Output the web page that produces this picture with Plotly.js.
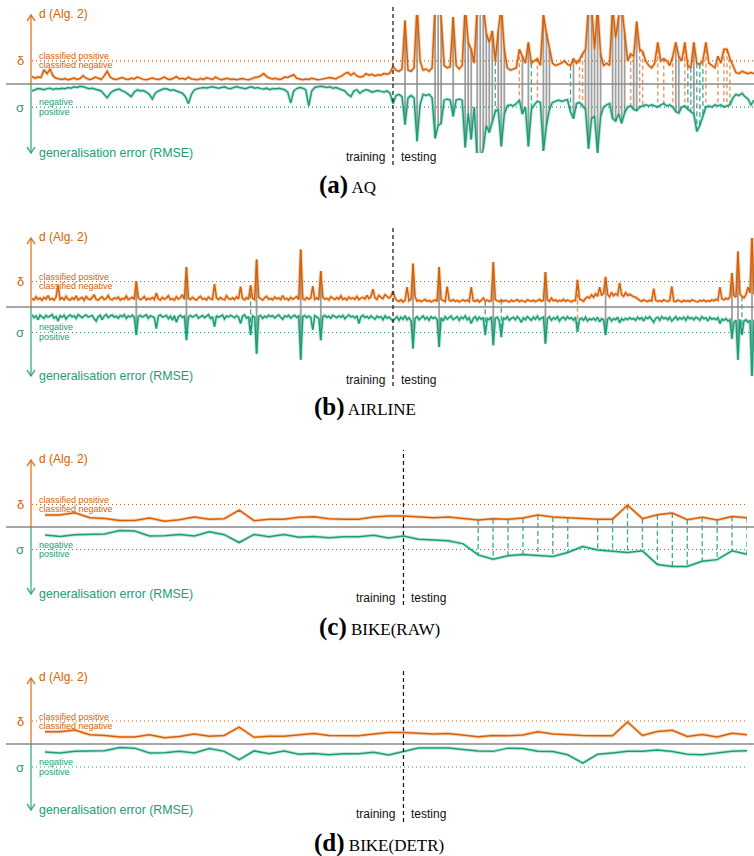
<!DOCTYPE html>
<html><head><meta charset="utf-8">
<script src="https://cdn.plot.ly/plotly-3.0.1.min.js"></script>
<style>html,body{margin:0;padding:0;background:#fff}#chart{width:754px;height:856px}</style>
</head><body><div id="chart"></div>
<script>
// ---------------- data (d and RMSE in units of their thresholds) -------------
const deltaThreshold = 1.0;   // δ  (classified positive above)
const sigmaThreshold = 1.0;   // σ  (positive above)

const panelLetters = ['(a)', '(b)', '(c)', '(d)'];
const panelNames = ['AQ', 'AIRLINE', 'BIKE(RAW)', 'BIKE(DETR)'];

const aqSplit = 120;
const aqD = [
0.33,0.25,0.3,0.28,0.62,0.45,0.65,0.35,0.25,0.22,
0.2,0.24,0.18,0.22,0.26,0.2,0.24,0.36,0.25,0.2,
0.22,0.3,0.24,0.2,0.35,0.55,0.3,0.22,0.2,0.24,
0.28,0.22,0.2,0.25,0.22,0.3,0.24,0.2,0.18,0.22,
0.26,0.22,0.2,0.24,0.3,0.22,0.2,0.25,0.32,0.22,
0.25,0.2,0.3,0.22,0.2,0.18,0.24,0.2,0.27,0.22,
0.2,0.3,0.22,0.18,0.22,0.25,0.2,0.22,0.18,0.2,
0.24,0.2,0.18,0.22,0.28,0.3,0.35,0.45,0.32,0.25,
0.22,0.25,0.2,0.22,0.3,0.28,0.35,0.4,0.25,0.2,
0.18,0.22,0.2,0.25,0.22,0.18,0.2,0.22,0.25,0.28,
0.25,0.22,0.3,0.35,0.45,0.5,0.38,0.48,0.35,0.3,
0.32,0.45,0.38,0.42,0.35,0.4,0.38,0.45,0.42,0.48,
0.75,0.6,0.55,0.65,2.75,0.6,0.55,0.7,3.4,1.0,
0.6,0.65,0.55,0.7,3.4,3.4,2.9,0.8,0.7,0.75,
2.9,0.8,0.65,0.8,3.4,1.8,1.5,0.9,3.4,3.4,
3.4,2.2,1.8,2.3,1.0,2.3,3.4,1.5,0.7,0.6,
0.65,0.7,1.5,1.2,0.9,1.8,0.9,1.0,1.1,0.8,
3.0,2.2,1.5,0.9,0.8,0.85,0.9,1.0,0.85,0.8,
1.1,0.9,1.05,1.3,1.5,3.4,3.4,1.5,3.4,1.3,
0.8,0.9,0.8,3.4,2.0,2.9,3.4,2.2,1.0,1.3,
1.2,2.7,1.5,1.4,1.0,0.8,0.7,0.9,1.8,1.0,
1.1,1.0,0.8,1.2,1.8,1.2,1.0,1.8,0.8,0.7,
1.8,0.9,0.85,1.0,1.8,0.9,0.8,0.7,1.2,0.9,
1.5,1.5,1.1,0.8,0.5,0.45,0.55,0.5,0.45,0.5,
0.45];
const aqRMSE = [
0.3,0.25,0.2,0.22,0.25,0.2,0.18,0.24,0.2,0.22,
0.18,0.2,0.15,0.18,0.12,0.15,0.1,0.12,0.15,0.2,
0.18,0.22,0.25,0.3,0.45,0.6,0.4,0.3,0.25,0.22,
0.3,0.35,0.45,0.55,0.35,0.25,0.3,0.28,0.35,0.45,
0.65,0.4,0.3,0.25,0.2,0.22,0.28,0.25,0.3,0.35,
0.4,0.55,0.85,0.45,0.25,0.2,0.18,0.15,0.17,0.15,
0.12,0.15,0.18,0.15,0.12,0.18,0.2,0.15,0.12,0.15,
0.18,0.2,0.15,0.12,0.18,0.15,0.2,0.22,0.18,0.25,
0.2,0.22,0.18,0.2,0.25,0.35,0.82,0.3,0.2,0.15,
0.18,0.25,0.95,0.3,0.15,0.12,0.1,0.12,0.15,0.12,
0.18,0.15,0.2,0.25,0.3,0.45,0.55,0.3,0.25,0.4,
0.3,0.25,0.28,0.35,0.3,0.28,0.32,0.35,0.3,0.4,
0.85,0.5,0.45,0.55,1.76,0.6,0.5,0.6,2.48,0.9,
0.45,0.5,0.45,0.6,2.35,1.8,1.7,0.7,0.65,0.7,
1.4,0.7,0.65,0.7,2.75,1.26,2.4,1.0,3.3,3.3,
2.8,1.8,2.1,1.6,1.2,1.1,2.7,1.3,0.95,0.9,
0.95,0.85,0.7,1.3,1.0,2.7,1.1,0.9,0.75,0.8,
2.9,1.8,1.1,0.8,0.75,0.7,0.75,0.7,0.68,1.2,
1.5,0.85,0.8,0.95,1.1,2.8,1.5,1.4,3.0,1.4,
1.0,0.9,0.85,1.5,1.6,1.3,1.7,1.25,1.0,0.95,
1.1,1.15,1.0,0.95,0.9,0.95,0.9,0.95,1.0,0.9,
0.85,0.95,0.9,1.0,1.2,1.26,1.0,0.95,1.1,1.2,
1.3,2.05,1.8,1.4,1.0,0.95,1.0,0.9,0.95,0.9,
1.0,0.95,0.9,0.6,0.45,0.5,0.4,0.55,0.65,0.9,
0.7];

const airlineSplit = 180;
const airlineD = [
.33,.28,.40,.30,.35,.26,.38,.31,.45,.29,.34,.27,.39,.85,.30,.36,.28,.42,.31,.27,
.36,.30,.44,.28,.33,.38,.26,.41,.32,.29,.37,.48,.30,.27,.35,.40,.29,.33,.45,.31,
.28,.36,.32,.39,.27,.34,.30,.43,.29,.35,.38,.30,1.02,.36,.29,.33,.41,.28,.34,.30,
.37,.29,.55,.32,.27,.38,.31,.35,.44,.29,.33,.27,.40,.31,.36,.48,.30,1.57,.34,.29,
.38,.31,.27,.36,.42,.30,.34,.28,.39,.32,.30,.90,.35,.29,.37,.31,.28,.44,.33,.30,
.36,.29,.40,.31,.80,.33,.28,.37,.30,.85,.34,.29,1.86,.38,.31,.27,.36,.42,.30,.34,
.28,.39,.32,.36,.29,.45,.31,.34,.27,.38,.30,.36,.41,.29,2.25,.33,.28,.37,.31,.35,
.82,.30,.36,.29,1.41,.38,.31,.34,.28,.40,.33,.29,.37,.31,.44,.30,.35,.28,.39,.32,
.36,.30,.42,.29,.35,.38,.31,.46,.33,.40,.70,.36,.30,.45,.38,.33,.48,.40,.35,.42,
.62,.35,.25,.22,.28,.20,.26,.78,.24,.30,1.70,.40,.23,.27,.21,.25,.30,.22,.26,.20,
.24,.28,.22,1.57,.30,.25,.21,.80,.27,.23,.29,.22,.26,.20,.24,.28,.23,.27,.21,.78,
.25,.22,.28,.20,.26,.35,.23,.27,.22,.25,1.76,.30,.24,.21,.28,.22,.26,.23,.20,.27,
.22,.25,.29,.21,.26,.23,.20,.28,.24,.22,.27,.21,.25,.30,.23,.26,1.37,.28,.22,.35,
.24,.28,.21,.26,.23,.30,.22,.27,.24,.20,.26,.25,1.07,.30,.28,.22,.34,.40,.35,.48,
.38,.52,.42,.78,.45,.55,1.18,.50,.40,.58,.44,.52,.46,.95,.48,.42,.56,.45,.50,.44,
.40,.38,.30,.26,.22,.28,.24,.21,.27,.23,.72,.26,.22,.25,.21,.28,.24,.22,.26,.81,
.23,.21,.27,.24,.20,.26,.22,.25,.21,.28,.24,.22,.20,.26,.23,.27,.21,.25,.22,.28,
.24,.30,.26,.78,.32,.28,.35,.30,.40,1.33,.45,.38,2.18,.50,.42,.36,.48,.78,.55,2.9,.50];
const airlineRMSE = [
.30,.42,.35,.50,.32,.38,.45,.33,.40,.36,.30,.44,.37,.55,.34,.40,.32,.47,.36,.31,
.39,.34,.45,.30,.38,.42,.35,.31,.40,.37,.33,.46,.55,.38,.32,.50,.36,.30,.42,.35,
.31,.40,.36,.44,.33,.38,.30,.45,.35,.39,.32,.41,1.10,.37,.33,.40,.36,.31,.45,.34,
.38,.42,.85,.35,.31,.40,.37,.33,.46,.36,.52,.34,.60,.38,.32,.41,.36,1.30,.39,.33,
.40,.35,.31,.44,.37,.33,.42,.36,.30,.45,.38,.78,.34,.41,.36,.32,.47,.35,.39,.33,
.37,.42,.34,.40,.65,.36,.31,.44,.38,1.10,.35,.40,1.83,.37,.33,.45,.36,.41,.32,.38,
.34,.43,.37,.31,.40,.48,.35,.39,.33,.44,.37,.32,.41,.36,2.07,.38,.33,.42,.36,.40,
.90,.34,.39,.45,1.30,.37,.33,.41,.36,.44,.32,.38,.42,.35,.40,.33,.46,.37,.31,.39,
.36,.43,.34,.65,.38,.32,.41,.37,.45,.35,.40,.48,.36,.42,.38,.50,.35,.44,.39,.48,
.55,.45,.38,.52,.40,.48,.35,.50,.42,.55,1.63,.45,.38,.50,.42,.35,.48,.40,.52,.38,
.45,.40,.50,1.57,.42,.55,.38,.48,.42,.36,.50,.44,.38,.52,.40,.46,.35,.50,.42,.65,
.45,.38,.52,.40,.48,.42,1.10,.45,.50,.38,1.50,.44,.40,.55,1.18,.42,.48,.38,.52,.45,
.40,.50,.38,.46,.60,.42,.50,.38,.45,.52,.40,.48,.36,.50,.44,.40,1.44,.46,.38,.52,
.42,.48,.38,.55,.44,.40,.50,.38,.46,.42,.52,.40,.98,.48,.44,.52,.40,.55,.46,.50,
.44,.52,.40,.58,.46,.50,1.10,.48,.42,.55,.45,.50,.40,.62,.46,.52,.44,.50,.42,.48,
.45,.52,.40,.48,.42,.55,.40,.46,.38,.50,.60,.44,.40,.52,.38,.46,.42,.50,.40,.55,
.44,.38,.50,.42,.48,.40,.52,.38,.46,.42,.50,.40,.44,.52,.38,.46,.42,.55,.40,.48,
.44,.50,.42,.65,.48,.52,.45,.55,.50,1.24,.60,.52,2.07,.48,1.10,.55,.50,.60,.52,2.9,.50];

const bikeRawSplit = 24;
const bikeRawD = [0.53,0.53,0.63,0.41,0.38,0.29,0.29,0.40,0.26,0.32,0.44,0.34,0.37,0.75,0.28,0.35,0.35,0.43,0.46,0.37,0.35,0.35,0.44,0.49,
0.49,0.46,0.41,0.44,0.38,0.31,0.37,0.35,0.40,0.53,0.44,0.40,0.37,0.35,0.35,0.97,0.37,0.54,0.62,0.32,0.43,0.31,0.47,0.41];
const bikeRawRMSE = [0.36,0.42,0.34,0.31,0.31,0.16,0.18,0.40,0.39,0.33,0.40,0.21,0.34,0.69,0.33,0.43,0.33,0.46,0.42,0.48,0.43,0.43,0.37,0.49,
0.40,0.54,0.58,0.61,0.75,1.24,1.43,1.28,1.22,1.28,1.31,1.13,0.87,1.02,1.07,1.13,1.06,1.67,1.76,1.75,1.52,1.45,1.06,1.21];

const bikeDetrSplit = 24;
const bikeDetrD = [0.53,0.53,0.61,0.40,0.37,0.30,0.30,0.40,0.27,0.33,0.43,0.34,0.37,0.73,0.29,0.34,0.34,0.41,0.46,0.37,0.36,0.36,0.43,0.50,
0.50,0.47,0.43,0.46,0.39,0.31,0.37,0.36,0.39,0.53,0.44,0.40,0.37,0.36,0.36,0.96,0.37,0.54,0.60,0.33,0.41,0.31,0.47,0.40];
const bikeDetrRMSE = [0.35,0.39,0.32,0.29,0.29,0.15,0.18,0.39,0.38,0.32,0.39,0.20,0.32,0.68,0.30,0.42,0.30,0.45,0.41,0.47,0.42,0.42,0.36,0.48,
0.32,0.17,0.17,0.17,0.24,0.30,0.32,0.18,0.20,0.32,0.33,0.47,0.83,0.45,0.39,0.32,0.32,0.26,0.33,0.45,0.47,0.38,0.32,0.29];

// ---------------- styling / layout -------------
const W = 754, H = 856;
const ORANGE = '#d95f02', GREEN = '#1b9e77';
const SANS = 'Liberation Sans, Arial, sans-serif';
const SERIF = 'Liberation Serif, Times New Roman, serif';

const panels = [
  {d: aqD, e: aqRMSE, split: aqSplit, x0: 32, x1: 754, base: 84, scale: 23.1, top: 15, bottom: 153, sTop: 5, sBot: 165, dotEnd: 754, titleY: 185, titleX: 347},
  {d: airlineD, e: airlineRMSE, split: airlineSplit, x0: 32, x1: 754, base: 307, scale: 25.5, top: 238, bottom: 376, sTop: 225, sBot: 386, dotEnd: 754, titleY: 407, titleX: 365},
  {d: bikeRawD, e: bikeRawRMSE, split: bikeRawSplit, x0: 45, x1: 747, base: 527, scale: 22.5, top: 460, bottom: 594, sTop: 450, sBot: 605, dotEnd: 746, titleY: 627, titleX: 379},
  {d: bikeDetrD, e: bikeDetrRMSE, split: bikeDetrSplit, x0: 45, x1: 747, base: 744, scale: 23, top: 678, bottom: 810, sTop: 668, sBot: 822, dotEnd: 746, titleY: 843, titleX: 379}
];

const yP = px => 1 - px / H;
const xP = px => px / W;

const traces = [];
const layout = {
  width: W, height: H, margin: {l: 0, r: 0, t: 0, b: 0},
  paper_bgcolor: '#fff', plot_bgcolor: 'rgba(0,0,0,0)',
  showlegend: false, shapes: [], annotations: [], hovermode: false
};

panels.forEach((p, k) => {
  const s = k ? String(k + 1) : '';
  const xa = 'x' + s, ya = 'y' + s;
  const n = p.d.length;
  const idx = p.d.map((_, i) => i);

  layout['xaxis' + s] = {domain: [xP(p.x0), xP(p.x1)], range: [0, n - 1], anchor: ya,
    showgrid: false, zeroline: false, showticklabels: false, ticks: '', showline: false, fixedrange: true};
  layout['yaxis' + s] = {domain: [yP(p.bottom), yP(p.top)],
    range: [-(p.bottom - p.base) / p.scale, (p.base - p.top) / p.scale], anchor: xa,
    showgrid: false, zeroline: false, showticklabels: false, ticks: '', showline: false, fixedrange: true};

  // connectors between d and RMSE where a threshold is exceeded
  const grey = {x: [], y: []}, oD = {x: [], y: []}, gD = {x: [], y: []};
  for (let i = 0; i < n; i++) {
    const pos = p.d[i] > deltaThreshold, err = p.e[i] > sigmaThreshold;
    const tgt = pos && err ? grey : pos ? oD : err ? gD : null;
    if (tgt) { tgt.x.push(i, i, null); tgt.y.push(p.d[i], -p.e[i], null); }
  }
  const common = {xaxis: xa, yaxis: ya, mode: 'lines', hoverinfo: 'skip', connectgaps: false};
  traces.push(Object.assign({x: grey.x, y: grey.y, line: {color: 'rgba(150,150,150,0.9)', width: 1.8}}, common));
  traces.push(Object.assign({x: oD.x, y: oD.y, line: {color: 'rgba(230,140,80,0.9)', width: 1.4, dash: '4px,3px'}}, common));
  traces.push(Object.assign({x: gD.x, y: gD.y, line: {color: 'rgba(27,158,119,0.85)', width: 1.3, dash: '5px,3px'}}, common));
  // halo + lines
  traces.push(Object.assign({x: idx, y: p.d, line: {color: 'rgba(217,95,2,0.25)', width: 3.5}}, common));
  traces.push(Object.assign({x: idx, y: p.e.map(v => -v), line: {color: 'rgba(27,158,119,0.25)', width: 3.5}}, common));
  traces.push(Object.assign({x: idx, y: p.d, line: {color: ORANGE, width: 1.5}}, common));
  traces.push(Object.assign({x: idx, y: p.e.map(v => -v), line: {color: GREEN, width: 1.5}}, common));

  const dPx = p.base - deltaThreshold * p.scale, sPx = p.base + sigmaThreshold * p.scale;
  const sh = layout.shapes;
  // baseline
  sh.push({type: 'line', xref: 'paper', yref: 'paper', x0: xP(6), x1: 1, y0: yP(p.base), y1: yP(p.base), line: {color: '#8a8a8a', width: 1.4}});
  // thresholds (fine dotted)
  sh.push({type: 'line', xref: 'paper', yref: ya, x0: xP(32), x1: xP(p.dotEnd), y0: deltaThreshold, y1: deltaThreshold, line: {color: ORANGE, width: 1.2, dash: '1px,3px'}});
  sh.push({type: 'line', xref: 'paper', yref: ya, x0: xP(32), x1: xP(p.dotEnd), y0: -sigmaThreshold, y1: -sigmaThreshold, line: {color: GREEN, width: 1.2, dash: '1px,3px'}});
  // split
  sh.push({type: 'line', xref: xa, yref: 'paper', x0: p.split, x1: p.split, y0: yP(p.sBot), y1: yP(p.sTop), line: {color: '#111', width: 1.2, dash: '4px,3px'}});
  // arrows
  sh.push({type: 'line', xref: 'paper', yref: 'paper', x0: xP(31), x1: xP(31), y0: yP(p.base), y1: yP(p.top), line: {color: 'rgba(217,95,2,0.75)', width: 1.5}});
  sh.push({type: 'line', xref: 'paper', yref: 'paper', x0: xP(31), x1: xP(31), y0: yP(p.base), y1: yP(p.bottom), line: {color: 'rgba(27,158,119,0.75)', width: 1.5}});
  sh.push({type: 'path', xref: 'paper', yref: 'paper', xsizemode: 'pixel', ysizemode: 'pixel', xanchor: xP(31), yanchor: yP(p.top),
    path: 'M-4,-6 L0,0 L4,-6', line: {color: 'rgba(217,95,2,0.8)', width: 1.5}});
  sh.push({type: 'path', xref: 'paper', yref: 'paper', xsizemode: 'pixel', ysizemode: 'pixel', xanchor: xP(31), yanchor: yP(p.bottom),
    path: 'M-4,6 L0,0 L4,6', line: {color: 'rgba(27,158,119,0.8)', width: 1.5}});

  const an = layout.annotations;
  const txt = (text, xpx, ypx, size, color, xanchor) => an.push({text, xref: 'paper', yref: 'paper', x: xP(xpx), y: yP(ypx),
    xanchor: xanchor || 'left', yanchor: 'middle', showarrow: false, font: {family: SANS, size, color}});
  txt('d (Alg. 2)', 37, p.top - 1, 12, ORANGE);
  txt('δ', 20, dPx, 13, ORANGE, 'center');
  txt('classified positive', 37, dPx - 4.5, 9, ORANGE);
  txt('classified negative', 37, dPx + 4.5, 9, ORANGE);
  txt('σ', 20, sPx, 13, GREEN, 'center');
  txt('negative', 37, sPx - 5, 9, GREEN);
  txt('positive', 37, sPx + 4.7, 9, GREEN);
  txt('generalisation error (RMSE)', 37, p.bottom, 12.4, GREEN);
  an.push({text: 'training', xref: xa, yref: 'paper', x: p.split, xshift: -6, y: yP(p.bottom + 4), xanchor: 'right', yanchor: 'middle',
    showarrow: false, font: {family: SANS, size: 12, color: '#111'}});
  an.push({text: 'testing', xref: xa, yref: 'paper', x: p.split, xshift: 6, y: yP(p.bottom + 4), xanchor: 'left', yanchor: 'middle',
    showarrow: false, font: {family: SANS, size: 12, color: '#111'}});
  an.push({text: '<span style="font-size:25px"><b>' + panelLetters[k] + '</b></span> ' + panelNames[k],
    xref: 'paper', yref: 'paper', x: xP(p.titleX), y: yP(p.titleY), xanchor: 'center', yanchor: 'middle',
    showarrow: false, font: {family: SERIF, size: 17, color: '#000'}});
});

Plotly.newPlot('chart', traces, layout, {staticPlot: true, displayModeBar: false});
</script>
</body></html>
